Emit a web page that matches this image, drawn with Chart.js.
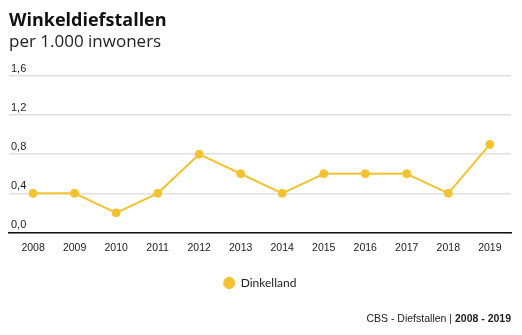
<!DOCTYPE html>
<html>
<head>
<meta charset="utf-8">
<script src="https://cdn.jsdelivr.net/npm/chart.js@4.4.1/dist/chart.umd.min.js"></script>
<style>
  html, body { margin: 0; padding: 0; background: #fff; }
  #wrap { width: 522px; height: 335px; }
</style>
</head>
<body>
<div id="wrap"><canvas id="myChart"></canvas></div>
<script>
let years = [2008, 2009, 2010, 2011, 2012, 2013, 2014, 2015, 2016, 2017, 2018, 2019];
let values = [0.4, 0.4, 0.2, 0.4, 0.8, 0.6, 0.4, 0.6, 0.6, 0.6, 0.4, 0.9];
let yTicks = [0, 0.4, 0.8, 1.2, 1.6];
let seriesName = 'Dinkelland';
let yellow = '#f3c232';

// bron onderaan rechts, tweede deel vet
let footerPlugin = {
  id: 'footer',
  afterDraw(chart) {
    let c = chart.ctx;
    c.save();
    c.textBaseline = 'middle';
    c.fillStyle = '#222';
    c.font = 'bold 10.5px "Liberation Sans"';
    let bold = '2008 - 2019';
    let wb = c.measureText(bold).width;
    c.textAlign = 'right';
    c.fillText(bold, 511, 319);
    c.font = '10.5px "Liberation Sans"';
    c.fillText('CBS - Diefstallen | ', 511 - wb, 319);
    c.restore();
  }
};

let ctx = document.getElementById('myChart').getContext('2d');
let myChart = new Chart(ctx, {
  type: 'line',
  data: {
    datasets: [{
      label: seriesName,
      data: years.map((y, i) => ({ x: y, y: values[i] })),
      borderColor: yellow,
      backgroundColor: yellow,
      borderWidth: 2,
      pointRadius: 4,
      pointBorderWidth: 1,
      tension: 0
    }]
  },
  options: {
    responsive: true,
    maintainAspectRatio: false,
    animation: false,
    layout: { padding: { left: 9, right: 11, top: 0, bottom: 36 } },
    scales: {
      x: {
        type: 'linear',
        min: 2007.42,
        max: 2019.51,
        afterBuildTicks: (scale) => { scale.ticks = years.map(v => ({ value: v })); },
        grid: { display: false, drawTicks: false },
        border: { display: true, color: '#111', width: 1.5 },
        ticks: {
          autoSkip: false,
          maxRotation: 0,
          padding: 9,
          color: '#222',
          font: { family: 'Liberation Sans', size: 10.5 },
          callback: (v) => String(v)
        }
      },
      y: {
        min: 0,
        max: 1.6,
        afterBuildTicks: (scale) => { scale.ticks = yTicks.map(v => ({ value: v })); },
        afterFit: (scale) => { scale.width = 0; },
        grid: { color: '#e0e0e0', lineWidth: 1.5, drawTicks: false },
        border: { display: false },
        ticks: {
          mirror: true,
          padding: 2,
          labelOffset: -7,
          color: '#222',
          font: { family: 'Liberation Sans', size: 11 },
          callback: (v) => v.toFixed(1).replace('.', ',')
        }
      }
    },
    plugins: {
      title: {
        display: true,
        text: 'Winkeldiefstallen',
        align: 'start',
        color: '#111',
        font: { family: 'Open Sans', size: 18, weight: 'bold' },
        padding: { top: 10, bottom: 0 }
      },
      subtitle: {
        display: true,
        text: 'per 1.000 inwoners',
        align: 'start',
        color: '#222',
        font: { family: 'Open Sans', size: 17 },
        padding: { top: 0, bottom: 24 }
      },
      legend: {
        position: 'bottom',
        labels: {
          usePointStyle: true,
          pointStyle: 'circle',
          boxHeight: 8,
          pointStyleWidth: 11,
          color: '#222',
          font: { family: 'Lato', size: 12 },
          padding: 14
        }
      },
      tooltip: { enabled: false }
    }
  },
  plugins: [footerPlugin]
});
</script>
</body>
</html>
